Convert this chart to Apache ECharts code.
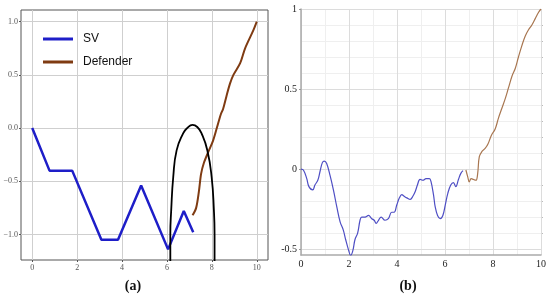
<!DOCTYPE html>
<html>
<head>
<meta charset="utf-8">
<script src="https://cdn.jsdelivr.net/npm/echarts@6/dist/echarts.min.js"></script>
<style>
  html, body { margin: 0; padding: 0; background: #fff; }
  #chart { width: 550px; height: 299px; }
</style>
</head>
<body>
<div id="chart"></div>
<script>
// panel (a): SV, Defender and the black loop
const svPoints = [[0, 0], [0.77, -0.40], [1.78, -0.40], [3.08, -1.05], [3.82, -1.05],
  [4.85, -0.54], [6.05, -1.14], [6.75, -0.78], [7.17, -0.98]]
const defenderPointsA = [[7.14, -0.82], [7.3, -0.75], [7.42, -0.6], [7.52, -0.43], [7.64, -0.33],
  [7.85, -0.22], [8.05, -0.12], [8.22, 0.0], [8.4, 0.13], [8.5, 0.18], [8.65, 0.3], [8.81, 0.42],
  [8.96, 0.5], [9.26, 0.61], [9.48, 0.75], [9.85, 0.92], [10, 1.0]]
const loopPoints = [[6.15, -1.3], [6.15, -1.0], [6.19, -0.77], [6.28, -0.46], [6.43, -0.21],
  [6.72, -0.05], [6.9, 0.0], [7.14, 0.03], [7.35, 0.01], [7.54, -0.05], [7.8, -0.21],
  [7.99, -0.46], [8.09, -0.77], [8.12, -1.0], [8.12, -1.3]]
const ticksAx = [0, 2, 4, 6, 8, 10]
const ticksAy = [-1, -0.5, 0, 0.5, 1]

// panel (b): one trajectory, blue then brown
const bluePointsB = [[0, 0], [0.1, -0.006], [0.24, -0.06], [0.33, -0.11], [0.49, -0.13], [0.58, -0.1],
  [0.7, -0.07], [0.79, -0.017], [0.89, 0.04], [0.97, 0.05], [1.07, 0.035], [1.21, -0.04],
  [1.35, -0.13], [1.49, -0.235], [1.63, -0.33], [1.76, -0.38], [1.86, -0.44], [1.97, -0.5],
  [2.07, -0.54], [2.16, -0.51], [2.25, -0.44], [2.36, -0.4], [2.46, -0.32], [2.53, -0.3],
  [2.67, -0.3], [2.81, -0.29], [2.95, -0.31], [3.05, -0.32], [3.13, -0.34], [3.23, -0.32],
  [3.34, -0.3], [3.5, -0.32], [3.64, -0.31], [3.78, -0.27], [3.88, -0.27], [3.99, -0.225],
  [4.1, -0.18], [4.2, -0.16], [4.3, -0.17], [4.41, -0.18], [4.55, -0.19], [4.66, -0.17],
  [4.76, -0.14], [4.85, -0.1], [4.96, -0.065], [5.08, -0.07], [5.21, -0.06], [5.35, -0.06],
  [5.42, -0.08], [5.52, -0.16], [5.59, -0.235], [5.69, -0.29], [5.8, -0.31], [5.91, -0.29],
  [6.01, -0.225], [6.12, -0.15], [6.24, -0.1], [6.35, -0.085], [6.45, -0.11], [6.56, -0.065],
  [6.66, -0.027], [6.75, -0.01]]
const brownPointsB = [[6.87, -0.006], [6.95, -0.05], [7.01, -0.08], [7.09, -0.06], [7.19, -0.065],
  [7.29, -0.07], [7.36, -0.03], [7.43, 0.077], [7.54, 0.11], [7.68, 0.13], [7.79, 0.156],
  [7.93, 0.21], [8.09, 0.25], [8.23, 0.32], [8.37, 0.38], [8.51, 0.44], [8.65, 0.51],
  [8.79, 0.58], [8.93, 0.63], [9.06, 0.7], [9.2, 0.77], [9.34, 0.83], [9.48, 0.87],
  [9.62, 0.9], [9.76, 0.94], [9.9, 0.98], [10, 1.0]]
const ticksBy = [-0.5, 0, 0.5, 1]
const minorBy = [-0.4, -0.3, -0.2, -0.1, 0.1, 0.2, 0.3, 0.4, 0.6, 0.7, 0.8, 0.9]

const fmtA = v => v.toFixed(1).replace('-', '\u2212')

const chart = echarts.init(document.getElementById('chart'))
chart.setOption({
  animation: false,
  title: [{
    text: '(a)', left: 133, top: 279, textAlign: 'center', padding: 0,
    textStyle: { fontFamily: 'Liberation Serif', fontWeight: 'bold', fontSize: 14, color: '#111' },
  }, {
    text: '(b)', left: 408, top: 279, textAlign: 'center', padding: 0,
    textStyle: { fontFamily: 'Liberation Serif', fontWeight: 'bold', fontSize: 14, color: '#111' },
  }],
  legend: {
    data: ['SV', 'Defender'],
    orient: 'vertical',
    left: 43,
    top: 32,
    padding: 0,
    icon: 'rect',
    itemWidth: 30,
    itemHeight: 3,
    itemGap: 9,
    textStyle: { fontFamily: 'Liberation Sans', fontSize: 12, color: '#111', lineHeight: 14, padding: [0, 0, 0, 5] },
  },
  grid: [
    { left: 21, top: 10, width: 247, height: 250, show: true, borderColor: '#555', borderWidth: 1 },
    { left: 301, top: 9, width: 240, height: 246 },
  ],
  xAxis: [{
    gridIndex: 0, type: 'value', min: -0.5, max: 10.5,
    axisLine: { show: false, onZero: false },
    axisTick: { show: true, length: 2, customValues: ticksAx, lineStyle: { color: '#555' } },
    axisLabel: { customValues: ticksAx, fontFamily: 'Liberation Serif', fontSize: 8, color: '#555', margin: 4 },
    splitLine: { show: true, lineStyle: { color: '#cfcfcf' } },
  }, {
    gridIndex: 1, type: 'value', min: 0, max: 10, interval: 2, z: 3,
    axisLine: { show: true, onZero: false, lineStyle: { color: '#aaa', width: 1.5 } },
    axisTick: { show: false },
    axisLabel: { fontFamily: 'Liberation Serif', fontSize: 10, color: '#222', margin: 4 },
    splitLine: { show: true, lineStyle: { color: '#dcdcdc' } },
  }, {
    gridIndex: 1, type: 'value', min: 0, max: 10, interval: 1, z: 1,
    axisLine: { show: false, onZero: false },
    axisTick: { show: false },
    axisLabel: { show: false },
    splitLine: { show: true, lineStyle: { color: '#efefef' } },
  }],
  yAxis: [{
    gridIndex: 0, type: 'value', min: -1.24, max: 1.11,
    axisLine: { show: false, onZero: false },
    axisTick: { show: true, length: 2, customValues: ticksAy, lineStyle: { color: '#555' } },
    axisLabel: { customValues: ticksAy, formatter: fmtA, fontFamily: 'Liberation Serif', fontSize: 8, color: '#555', margin: 3 },
    splitLine: { show: true, lineStyle: { color: '#cfcfcf' } },
  }, {
    gridIndex: 1, type: 'value', min: -0.537, max: 1, z: 3,
    axisLine: { show: true, onZero: false, lineStyle: { color: '#aaa', width: 1.5 } },
    axisTick: { show: true, length: 2, customValues: ticksBy, lineStyle: { color: '#999' } },
    axisLabel: { customValues: ticksBy, fontFamily: 'Liberation Serif', fontSize: 10, color: '#222', margin: 4 },
    splitLine: { show: true, lineStyle: { color: '#dcdcdc' } },
  }, {
    gridIndex: 1, type: 'value', min: -0.537, max: 1, z: 1,
    axisLine: { show: false, onZero: false },
    axisTick: { show: true, length: 2, customValues: minorBy, lineStyle: { color: '#bbb' } },
    axisLabel: { show: false },
    splitLine: { show: true, lineStyle: { color: '#efefef' } },
  }],
  series: [{
    name: 'SV', type: 'line', xAxisIndex: 0, yAxisIndex: 0,
    data: svPoints, showSymbol: false, color: '#1e1ec8',
    lineStyle: { width: 2.5, color: '#1e1ec8' },
  }, {
    name: 'Defender', type: 'line', xAxisIndex: 0, yAxisIndex: 0,
    data: defenderPointsA, showSymbol: false, smooth: 0.3, color: '#7f3b12',
    lineStyle: { width: 2, color: '#7f3b12' },
  }, {
    name: 'loop', type: 'line', xAxisIndex: 0, yAxisIndex: 0,
    data: loopPoints, showSymbol: false, smooth: 0.5, clip: true,
    lineStyle: { width: 1.8, color: '#000' },
  }, {
    name: 'b-blue', type: 'line', xAxisIndex: 1, yAxisIndex: 1,
    data: bluePointsB, showSymbol: false, smooth: 0.4,
    lineStyle: { width: 1.2, color: '#4e4ec4' },
  }, {
    name: 'b-brown', type: 'line', xAxisIndex: 1, yAxisIndex: 1,
    data: brownPointsB, showSymbol: false, smooth: 0.4,
    lineStyle: { width: 1.2, color: '#a87650' },
  }],
})
</script>
</body>
</html>
